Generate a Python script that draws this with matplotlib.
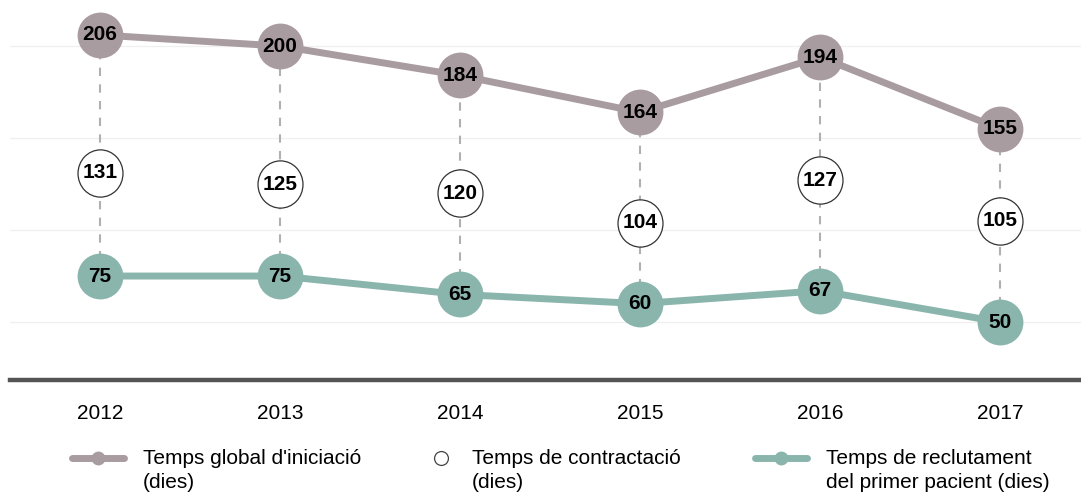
import matplotlib
matplotlib.use("Agg")
import matplotlib.pyplot as plt
from matplotlib.lines import Line2D
from matplotlib.path import Path
from matplotlib.transforms import Affine2D

plt.rcParams["font.family"] = ["Liberation Sans", "DejaVu Sans"]

# Dades
years = [2012, 2013, 2014, 2015, 2016, 2017]
global_days = [206, 200, 184, 164, 194, 155]
contract_days = [131, 125, 120, 104, 127, 105]
recruit_days = [75, 75, 65, 60, 67, 50]

legend_labels = [
    "Temps global d'iniciació\n(dies)",
    "Temps de contractació\n(dies)",
    "Temps de reclutament\ndel primer pacient (dies)",
]

GRAY = "#a99ca0"
TEAL = "#8ab5ad"
W, H = 1081, 496

fig = plt.figure(figsize=(W / 100, H / 100), dpi=100)
ax = fig.add_axes([10 / W, 116 / H, 1 - 10 / W, 380 / H])
ax.set_xlim(2011.5, 2017.45)
ax.set_ylim(18.5, 225)

# grid
for g in [50, 100, 150, 200]:
    ax.axhline(g, color="#f0f0f0", lw=1, zorder=0)

# dashed connectors
for x, top, bot in zip(years, global_days, recruit_days):
    ax.plot([x, x], [bot, top], color="#b0b0b0", lw=1.5, ls=(0, (4, 4)), zorder=1)

ax.plot(years, global_days, color=GRAY, lw=5, zorder=2)
ax.plot(years, recruit_days, color=TEAL, lw=5, zorder=2)
ax.scatter(years, global_days, s=33 ** 2, color=GRAY, zorder=3, linewidths=0)
ax.scatter(years, recruit_days, s=33 ** 2, color=TEAL, zorder=3, linewidths=0)

oval = Path.unit_circle().transformed(Affine2D().scale(1, 1.05))
ax.scatter(years, contract_days, s=34 ** 2, marker=oval, facecolor="white",
           edgecolor="#333333", linewidths=0.9, zorder=3)

for series in (global_days, contract_days, recruit_days):
    for x, v in zip(years, series):
        ax.text(x, v, str(v), ha="center", va="center", fontsize=15,
                fontweight="bold", color="black", zorder=4)

ax.set_xticks(years)
ax.set_xticklabels([str(y) for y in years], fontsize=15)
ax.tick_params(axis="x", length=0, pad=17)
ax.set_yticks([])
for s in ["top", "right", "left"]:
    ax.spines[s].set_visible(False)
ax.spines["bottom"].set_color("#555555")
ax.spines["bottom"].set_linewidth(3.2)

# llegenda
def fy(px):
    return 1 - px / H

fig.add_artist(Line2D([72 / W, 124 / W], [fy(458), fy(458)], color=GRAY, lw=5,
                      solid_capstyle="round"))
fig.add_artist(Line2D([98 / W], [fy(458)], marker="o", ms=10, color=GRAY, mew=0))
fig.add_artist(Line2D([441 / W], [fy(458)], marker="o", ms=10, mfc="white",
                      mec="#444444", mew=0.9, ls="none"))
fig.add_artist(Line2D([755 / W, 807 / W], [fy(458)] * 2, color=TEAL, lw=5,
                      solid_capstyle="round"))
fig.add_artist(Line2D([781 / W], [fy(458)], marker="o", ms=10, color=TEAL, mew=0))

for xp, lab in zip([143, 472, 826], legend_labels):
    fig.text(xp / W, fy(449), lab, ha="left", va="top", fontsize=15,
             linespacing=1.35, color="black")

fig.savefig("out.png", dpi=100)
